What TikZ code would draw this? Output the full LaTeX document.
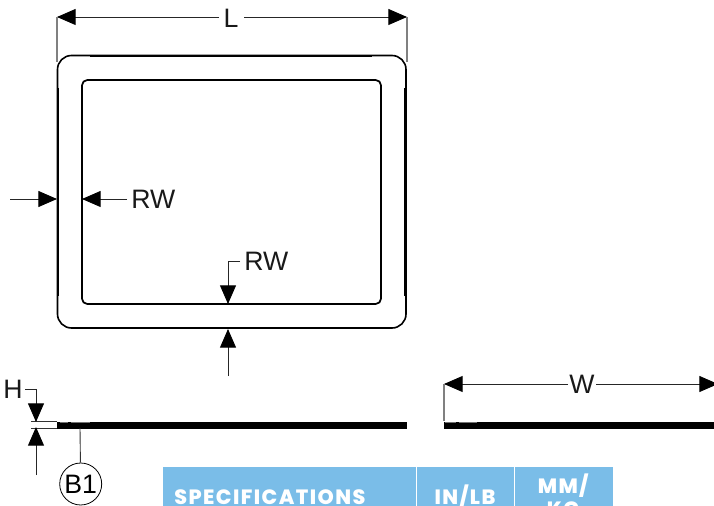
\documentclass[tikz,border=0pt]{standalone}
\usepackage{fontspec}
\setmainfont{Liberation Sans}
\newfontfamily\headfont{Poppins}[UprightFont=* ExtraBold,LetterSpace=7]
\usetikzlibrary{arrows.meta}
\definecolor{headblue}{HTML}{7ABDE8}
\tikzset{
  x=0.75pt,y=-0.75pt,
  dimline/.style={line width=0.9pt*0.75,draw=black!85,-{Triangle[length=14pt,width=12pt,color=black]}},
  plainline/.style={line width=0.9pt*0.75,draw=black!80},
  extline/.style={line width=1.1pt*0.75,draw=black!50},
  lab/.style={font=\fontsize{20}{20}\selectfont,inner sep=0pt,text=black!90},
  headcell/.style={fill=headblue,draw=none},
  headtxt/.style={font=\headfont\fontsize{15.5}{17}\selectfont,text=white,inner sep=0pt,align=center},
  thickedge/.style={line width=1.9pt,line cap=butt},
  bar/.style={fill=black,draw=none}
}
\begin{document}
\begin{tikzpicture}
\clip (0,0) rectangle (714,506);
\useasboundingbox (0,0) rectangle (714,506);
\fill[white] (0,0) rectangle (714,506);
% plan outline
\draw[line width=1.2pt,rounded corners=10.5pt] (57.5,55.5) rectangle (406,328);
\draw[line width=1.3pt,rounded corners=4pt] (82,80) rectangle (381,304);
\draw[thickedge] (90,56) -- (372,56);
\draw[thickedge] (90,328) -- (372,328);
\draw[thickedge] (58,88) -- (58,296);
\draw[thickedge] (405.5,88) -- (405.5,296);
% L
\node[lab] (L) at (231,18) {L};
\coordinate (La) at (57,17);
\coordinate (Lb) at (407,17);
\draw[dimline] (219,17) -- (La);
\draw[dimline] (244,17) -- (Lb);
\draw[extline] (La) -- (57,62);
\draw[extline] (Lb) -- (407,62);
% RW left
\coordinate (ra0) at (10,199);
\coordinate (ra1) at (57,199);
\coordinate (rb1) at (82,199);
\node[lab,anchor=west] (RWa) at (131,199.5) {RW};
\draw[dimline] (ra0) -- (ra1);
\draw[dimline] (127,199) -- (rb1);
% RW lower
\node[lab,anchor=west] (RWb) at (244,261) {RW};
\coordinate (rc1) at (228,304);
\coordinate (rd0) at (228,376);
\coordinate (rd1) at (228,329);
\draw[dimline] (240,261) -- (228,261) -- (rc1);
\draw[dimline] (rd0) -- (rd1);
% side view left
\fill[bar] (57,421.5) rectangle (407,429);
\draw[line width=0.7pt,draw=black!55] (60,422) -- (68,422) (71,422) -- (90,422);
\draw[plainline] (31,421.5) -- (57,421.5);
\draw[plainline] (31,428) -- (57,428);
\node[lab,anchor=west] (H) at (3,389) {H};
\coordinate (ha) at (36,422);
\coordinate (hb) at (36,475);
\coordinate (hc) at (36,427);
\draw[dimline] (25,389) -- (36,389) -- (ha);
\draw[dimline] (hb) -- (hc);
\node[circle,draw,line width=0.6pt,minimum size=31.5pt,inner sep=0pt,font=\fontsize{20}{20}\selectfont] (B1) at (80.7,484) {B1};
\coordinate (bt) at (80,428);
\draw[plainline] (B1) -- (bt);
% side view right
\fill[bar] (444,421.5) rectangle (714,429);
\draw[line width=0.7pt,draw=black!55] (445,422) -- (456,422) (459,422) -- (477,422);
\coordinate (Wa) at (444,384);
\coordinate (Wb) at (718,384);
\node[lab] (W) at (582,384.5) {W};
\draw[dimline] (568,384) -- (Wa);
\draw[dimline] (596,384) -- (Wb);
\draw[extline] (Wa) -- (444,421);
% table
\fill[headcell] (163,467) rectangle (415.5,520);
\fill[headcell] (417,467) rectangle (513.5,520);
\fill[headcell] (515,467) rectangle (613,520);
\node[headtxt,anchor=base west] (s) at (174,504) {SPECIFICATIONS};
\node[headtxt,anchor=base] (i) at (465,504) {IN/LB};
\node[headtxt,anchor=base] (m) at (563,493) {MM/};
\node[headtxt,anchor=base] (k) at (563,516) {KG};
\end{tikzpicture}
\end{document}
